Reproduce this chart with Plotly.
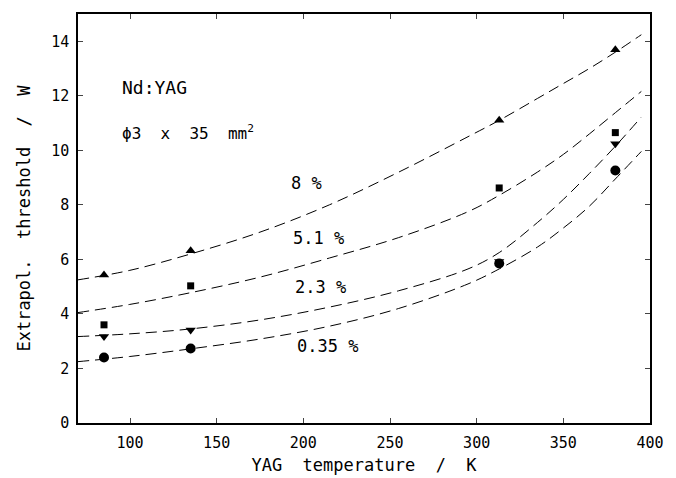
import plotly.graph_objects as go

# measured data points
temps = [85, 135, 313, 380]
thr_8 = [5.43, 6.32, 11.1, 13.69]
thr_51 = [3.6, 5.03, 8.62, 10.65]
thr_23 = [3.17, 3.41, 5.92, 10.24]
thr_035 = [2.40, 2.73, 5.85, 9.26]

# fitted curves
curve_x = [70, 100, 135, 175, 215, 255, 295, 313, 335, 350, 365, 380, 395]
curve_8 = [5.25, 5.6, 6.2, 7.0, 8.0, 9.2, 10.5, 11.1, 11.9, 12.45, 13.0, 13.6, 14.24]
curve_51 = [4.05, 4.35, 4.78, 5.35, 6.05, 6.8, 7.75, 8.35, 9.2, 9.85, 10.6, 11.38, 12.16]
curve_23 = [3.17, 3.27, 3.45, 3.78, 4.25, 4.85, 5.65, 6.25, 7.35, 8.2, 9.15, 10.15, 11.22]
curve_035 = [2.25, 2.44, 2.72, 3.08, 3.55, 4.2, 5.1, 5.65, 6.45, 7.15, 7.95, 8.95, 9.96]

labels = ["8 %", "5.1 %", "2.3 %", "0.35 %"]
label_x = [192, 193, 194, 195]
label_y = [8.81, 6.79, 4.99, 2.83]

x_ticks = [100, 150, 200, 250, 300, 350, 400]
y_ticks = [0, 2, 4, 6, 8, 10, 12, 14]

FONT = "DejaVu Sans Mono"
fig = go.Figure()

for cy in [curve_8, curve_51, curve_23, curve_035]:
    fig.add_trace(go.Scatter(x=curve_x, y=cy, mode="lines",
                             line=dict(color="black", width=1, dash="11px,6px", shape="spline", smoothing=1.0),
                             showlegend=False, hoverinfo="skip"))

for vals, sym, sz in [(thr_8, "triangle-up", 9), (thr_51, "square", 7),
                      (thr_23, "triangle-down", 9), (thr_035, "circle", 10)]:
    fig.add_trace(go.Scatter(x=temps, y=vals, mode="markers",
                             marker=dict(color="black", symbol=sym, size=sz),
                             showlegend=False))

for t, lx, ly in zip(labels, label_x, label_y):
    fig.add_annotation(x=lx, y=ly, text=t, showarrow=False, xanchor="left",
                       font=dict(family=FONT, size=17, color="black"))

fig.add_annotation(x=0.073, y=0.851, xref="paper", yref="paper", xanchor="left",
                   text="Nd:YAG", showarrow=False,
                   font=dict(family=FONT, size=18, color="black"))
fig.add_annotation(x=0.073, y=0.741, xref="paper", yref="paper", xanchor="left",
                   text="ϕ3  x  35  mm<sup>2</sup>", showarrow=False,
                   font=dict(family=FONT, size=16, color="black"))

fig.update_layout(
    width=676, height=478,
    margin=dict(l=78, r=26, t=14, b=55),
    paper_bgcolor="white", plot_bgcolor="white",
    font=dict(family=FONT, size=15, color="black"),
)
fig.update_xaxes(range=[70, 400], tickvals=x_ticks, ticks="inside", ticklen=5,
                 showline=True, linecolor="black", linewidth=1.5, mirror="ticks",
                 showgrid=False, zeroline=False, tickfont=dict(size=15), ticklabelstandoff=5,
                 automargin=False,
                 title=dict(text="YAG  temperature  /  K", font=dict(family=FONT, size=17), standoff=8))
fig.update_yaxes(range=[0, 15], tickvals=y_ticks, ticks="inside", ticklen=5,
                 showline=True, linecolor="black", linewidth=1.5, mirror="ticks",
                 showgrid=False, zeroline=False, tickfont=dict(size=15), ticklabelstandoff=4,
                 automargin=False,
                 title=dict(text="Extrapol.  threshold  /  W", font=dict(family=FONT, size=17), standoff=16))

fig.write_html("out.html")
